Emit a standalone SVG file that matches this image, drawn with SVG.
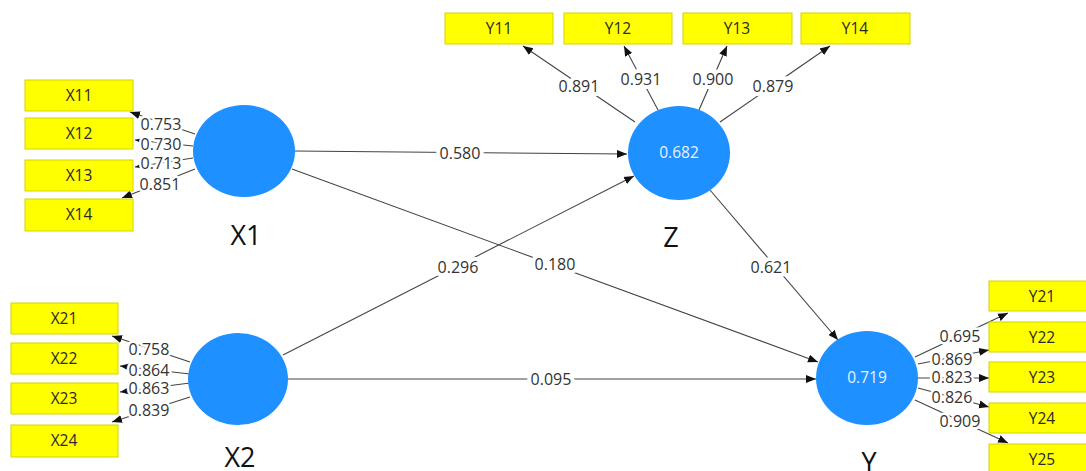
<svg xmlns="http://www.w3.org/2000/svg" width="1086" height="471" viewBox="0 0 1086 471">
<style>
.box{fill:#ffff00;stroke:#d4d400;stroke-width:1}
.bt{font-family:"Open Sans","DejaVu Sans",sans-serif;font-size:15.5px;fill:#2a2a2a;text-anchor:middle}
.lv{fill:#1e90ff}
.lvt{font-family:"Open Sans","DejaVu Sans",sans-serif;font-size:15.5px;fill:#e8f2ff;text-anchor:middle}
.name{font-family:"Open Sans","DejaVu Sans",sans-serif;font-size:27px;fill:#111;text-anchor:middle}
.ln{stroke:#444;stroke-width:1.1;fill:none;marker-end:url(#ah)}
.lb{font-family:"Open Sans","DejaVu Sans",sans-serif;font-size:16px;fill:#333;text-anchor:middle;stroke:#fff;stroke-width:5;paint-order:stroke;stroke-linejoin:round}
.lb2{stroke-width:8}
</style>
<defs>
<marker id="ah" markerUnits="userSpaceOnUse" markerWidth="10" markerHeight="10" viewBox="0 0 10 10" refX="10" refY="5" orient="auto">
<path d="M0,1 L10,5 L0,9 Z" fill="#111"/>
</marker>
</defs>
<rect width="1086" height="471" fill="#fff"/>
<g id="connectors">
<line class="ln" x1="195" y1="134" x2="130" y2="112"/>
<line class="ln" x1="193" y1="146" x2="135" y2="140"/>
<line class="ln" x1="193" y1="158" x2="135" y2="167"/>
<line class="ln" x1="195" y1="169" x2="122" y2="198"/>
<line class="ln" x1="190" y1="362" x2="112" y2="336"/>
<line class="ln" x1="190" y1="374" x2="120" y2="366"/>
<line class="ln" x1="190" y1="383" x2="120" y2="392"/>
<line class="ln" x1="190" y1="397" x2="112" y2="422"/>
<line class="ln" x1="635" y1="122" x2="523" y2="46"/>
<line class="ln" x1="658" y1="110" x2="624" y2="46"/>
<line class="ln" x1="699" y1="110" x2="727" y2="46"/>
<line class="ln" x1="720" y1="122" x2="830" y2="46"/>
<line class="ln" x1="915" y1="357" x2="1008" y2="313"/>
<line class="ln" x1="918" y1="364" x2="989" y2="350"/>
<line class="ln" x1="918" y1="378" x2="989" y2="378"/>
<line class="ln" x1="918" y1="388" x2="989" y2="407"/>
<line class="ln" x1="915" y1="400" x2="1008" y2="443"/>
<line class="ln" x1="294" y1="151" x2="627" y2="154"/>
<line class="ln" x1="292" y1="169" x2="818" y2="362"/>
<line class="ln" x1="283" y1="355" x2="634" y2="176"/>
<line class="ln" x1="288" y1="379" x2="816" y2="379"/>
<line class="ln" x1="710" y1="190" x2="838" y2="340"/>
<text class="lb" x="161" y="130">0.753</text>
<text class="lb" x="161" y="150">0.730</text>
<text class="lb" x="161" y="169">0.713</text>
<text class="lb" x="160" y="190">0.851</text>
<text class="lb" x="149" y="355">0.758</text>
<text class="lb" x="149" y="376">0.864</text>
<text class="lb" x="149" y="394">0.863</text>
<text class="lb" x="149" y="416">0.839</text>
<text class="lb lb2" x="579" y="92">0.891</text>
<text class="lb lb2" x="641" y="85">0.931</text>
<text class="lb lb2" x="713" y="85">0.900</text>
<text class="lb lb2" x="773" y="92">0.879</text>
<text class="lb" x="960" y="342">0.695</text>
<text class="lb" x="952" y="365">0.869</text>
<text class="lb" x="952" y="383">0.823</text>
<text class="lb" x="952" y="403">0.826</text>
<text class="lb" x="960" y="427">0.909</text>
<text class="lb lb2" x="460" y="159">0.580</text>
<text class="lb lb2" x="555" y="270">0.180</text>
<text class="lb lb2" x="458" y="273">0.296</text>
<text class="lb lb2" x="551" y="385">0.095</text>
<text class="lb lb2" x="771" y="273">0.621</text>
</g>
<g id="X11"><rect class="box" x="25" y="80" width="108" height="31"/><text class="bt" x="79" y="101">X11</text></g>
<g id="X12"><rect class="box" x="25" y="118" width="108" height="31"/><text class="bt" x="79" y="139">X12</text></g>
<g id="X13"><rect class="box" x="25" y="160" width="108" height="31"/><text class="bt" x="79" y="181">X13</text></g>
<g id="X14"><rect class="box" x="25" y="199" width="108" height="32"/><text class="bt" x="79" y="220">X14</text></g>
<g id="X21"><rect class="box" x="11" y="303" width="107" height="31"/><text class="bt" x="64" y="324">X21</text></g>
<g id="X22"><rect class="box" x="11" y="343" width="107" height="31"/><text class="bt" x="64" y="364">X22</text></g>
<g id="X23"><rect class="box" x="11" y="383" width="107" height="31"/><text class="bt" x="64" y="404">X23</text></g>
<g id="X24"><rect class="box" x="11" y="425" width="107" height="32"/><text class="bt" x="64" y="446">X24</text></g>
<g id="Y11"><rect class="box" x="445" y="13" width="108" height="31"/><text class="bt" x="499" y="34">Y11</text></g>
<g id="Y12"><rect class="box" x="564" y="13" width="108" height="31"/><text class="bt" x="618" y="34">Y12</text></g>
<g id="Y13"><rect class="box" x="683" y="13" width="109" height="31"/><text class="bt" x="737" y="34">Y13</text></g>
<g id="Y14"><rect class="box" x="801" y="13" width="109" height="31"/><text class="bt" x="855" y="34">Y14</text></g>
<g id="Y21"><rect class="box" x="989" y="281" width="107" height="30"/><text class="bt" x="1042" y="302">Y21</text></g>
<g id="Y22"><rect class="box" x="989" y="322" width="107" height="30"/><text class="bt" x="1042" y="343">Y22</text></g>
<g id="Y23"><rect class="box" x="989" y="362" width="107" height="30"/><text class="bt" x="1042" y="383">Y23</text></g>
<g id="Y24"><rect class="box" x="989" y="403" width="107" height="30"/><text class="bt" x="1042" y="424">Y24</text></g>
<g id="Y25"><rect class="box" x="989" y="444" width="107" height="32"/><text class="bt" x="1042" y="465">Y25</text></g>
<g id="X1"><ellipse class="lv" cx="244" cy="151" rx="51" ry="46"/><text class="name" x="246" y="245">X1</text></g>
<g id="X2"><ellipse class="lv" cx="238" cy="379" rx="50" ry="46"/><text class="name" x="240" y="467">X2</text></g>
<g id="Z"><ellipse class="lv" cx="679" cy="153" rx="51" ry="47"/><text class="lvt" x="679" y="158">0.682</text><text class="name" x="671" y="247">Z</text></g>
<g id="Y"><ellipse class="lv" cx="867" cy="378" rx="51" ry="47"/><text class="lvt" x="867" y="383">0.719</text><text class="name" x="869" y="472">Y</text></g>
</svg>
